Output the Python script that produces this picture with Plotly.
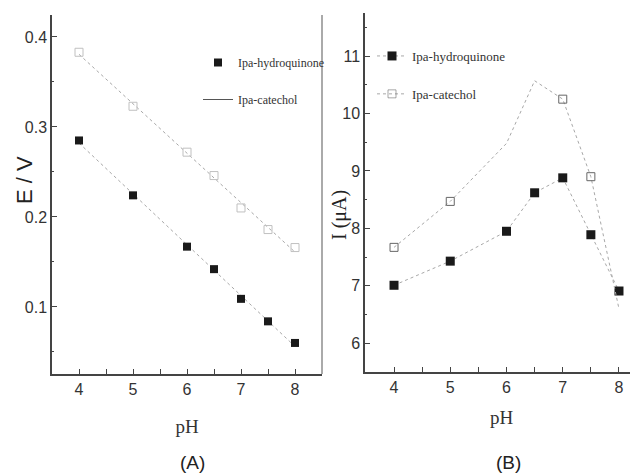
import numpy as np
import plotly.graph_objects as go

# ---- data ----
ph_a = [4, 5, 6, 6.5, 7, 7.5, 8]
e_hydroquinone = [0.285, 0.224, 0.167, 0.142, 0.109, 0.084, 0.060]
e_catechol = [0.383, 0.323, 0.272, 0.246, 0.210, 0.186, 0.166]

ph_b = [4, 5, 6, 6.5, 7, 7.5, 8]
i_hydroquinone = [7.01, 7.43, 7.95, 8.62, 8.88, 7.89, 6.91]
i_catechol = [7.67, 8.47, 9.48, 10.57, 10.25, 8.90, 6.60]

x_ticks = [4, 5, 6, 7, 8]
ya_ticks = [0.1, 0.2, 0.3, 0.4]
yb_ticks = [6, 7, 8, 9, 10, 11]

# page body has an 8px margin: figure occupies page pixels 8..638 x 8..476
OFF = 8
W, H = 638 - OFF, 476 - OFF
def px(x): return (x - OFF) / W
def py(y): return 1 - (y - OFF) / H

fig = go.Figure()

# ---- panel A: linear fits ----
fit_x = np.array([4.0, 8.0])
for yv in (e_catechol, e_hydroquinone):
    k, b = np.polyfit(ph_a, yv, 1)
    fig.add_trace(go.Scatter(x=fit_x, y=k * fit_x + b, mode="lines",
                             line=dict(color="#a8a8a8", width=1, dash="dot"),
                             showlegend=False, xaxis="x", yaxis="y", hoverinfo="skip"))
fig.add_trace(go.Scatter(x=ph_a, y=e_hydroquinone, mode="markers", name="Ipa-hydroquinone",
                         marker=dict(symbol="square", size=8, color="#1a1a1a"),
                         xaxis="x", yaxis="y", legend="legend", legendgroup="a1"))
fig.add_trace(go.Scatter(x=ph_a, y=e_catechol, mode="markers", name="Ipa-catechol",
                         marker=dict(symbol="square-open", size=8, color="#c0c0c0", line=dict(width=1)),
                         xaxis="x", yaxis="y", showlegend=False))
fig.add_trace(go.Scatter(x=[None], y=[None], mode="lines", name="Ipa-catechol",
                         line=dict(color="#555555", width=1),
                         xaxis="x", yaxis="y", legend="legend", legendgroup="a2"))

# ---- panel B ----
fig.add_trace(go.Scatter(x=ph_b, y=i_hydroquinone, mode="lines+markers", name="Ipa-hydroquinone",
                         line=dict(color="#a8a8a8", width=1, dash="dot"),
                         marker=dict(symbol="square", size=9, color="#1a1a1a"),
                         xaxis="x2", yaxis="y2", legend="legend2", legendgroup="b1"))
fig.add_trace(go.Scatter(x=ph_b, y=i_catechol, mode="lines+markers", name="Ipa-catechol",
                         line=dict(color="#a8a8a8", width=1, dash="dot"),
                         marker=dict(symbol="square-open", size=8, color="#666666", line=dict(width=1),
                                     opacity=[1, 1, 0, 0, 1, 1, 0]),
                         xaxis="x2", yaxis="y2", legend="legend2", legendgroup="b2"))

tickfont = dict(family="Liberation Sans Narrow, Arial Narrow, Liberation Sans, Arial", size=16, color="#333333")
serif = "Liberation Serif, Times New Roman, serif"
sans = "Liberation Sans, Arial, sans-serif"

common_x = dict(showline=True, linecolor="#444444", linewidth=2, ticks="inside", ticklen=5,
                tickcolor="#444444", tickvals=x_ticks, tickfont=tickfont, showgrid=False,
                zeroline=False, minor=dict(dtick=0.5, ticks="inside", ticklen=5, tickcolor="#444444"))

fig.update_layout(
    width=W, height=H, margin=dict(l=0, r=0, t=0, b=0),
    paper_bgcolor="white", plot_bgcolor="white",
    xaxis=dict(domain=[px(52), px(322)], range=[3.5, 8.5], anchor="y",
               title=dict(text="pH", font=dict(family=serif, size=19, color="#333333"), standoff=22),
               **common_x),
    yaxis=dict(domain=[py(374), py(15)], range=[0.0255, 0.4244], anchor="x",
               showline=True, linecolor="#444444", linewidth=1.5, ticks="inside", ticklen=5,
               tickcolor="#444444", tickvals=ya_ticks, ticktext=["0.1", "0.2", "0.3", "0.4"],
               tickfont=tickfont, showgrid=False, zeroline=False,
               minor=dict(dtick=0.05, ticks="inside", ticklen=2, tickcolor="#444444")),
    xaxis2=dict(domain=[px(365), 1.0], range=[3.484, 8.338], anchor="y2",
                title=dict(text="pH", font=dict(family=serif, size=19, color="#333333"), standoff=15),
                **common_x),
    yaxis2=dict(domain=[py(372), py(13)], range=[5.5, 11.75], anchor="x2",
                showline=True, linecolor="#444444", linewidth=1.5, ticks="inside", ticklen=5,
                tickcolor="#444444", tickvals=yb_ticks, tickfont=tickfont, showgrid=False,
                zeroline=False, minor=dict(dtick=0.5, ticks="inside", ticklen=2, tickcolor="#444444")),
    legend=dict(x=px(198), y=py(48), xanchor="left", yanchor="top", bgcolor="rgba(0,0,0,0)",
                font=dict(family=serif, size=12, color="#333333"), itemwidth=30,
                traceorder="grouped", tracegroupgap=18),
    legend2=dict(x=px(372), y=py(41), xanchor="left", yanchor="top", bgcolor="rgba(0,0,0,0)",
                 font=dict(family=serif, size=13, color="#333333"), itemwidth=30,
                 traceorder="grouped", tracegroupgap=18),
    showlegend=True,
)

# right border of panel A
fig.add_shape(type="line", xref="x domain", yref="y domain", x0=1, x1=1, y0=0, y1=1,
              line=dict(color="#aaaaaa", width=2))

# y titles and panel labels
ann = dict(xref="paper", yref="paper", showarrow=False, xanchor="center", yanchor="middle")
fig.add_annotation(text="E / V", x=px(24), y=py(180), textangle=-90,
                   font=dict(family=sans, size=22, color="#222222"), **ann)
fig.add_annotation(text="I (μA)", x=px(339), y=py(215), textangle=-90,
                   font=dict(family=serif, size=20, color="#222222"), **ann)
fig.add_annotation(text="(A)", x=px(192), y=py(462),
                   font=dict(family=sans, size=19, color="#222222"), **ann)
fig.add_annotation(text="(B)", x=px(508), y=py(462),
                   font=dict(family=sans, size=19, color="#222222"), **ann)

fig.write_html("out.html")
